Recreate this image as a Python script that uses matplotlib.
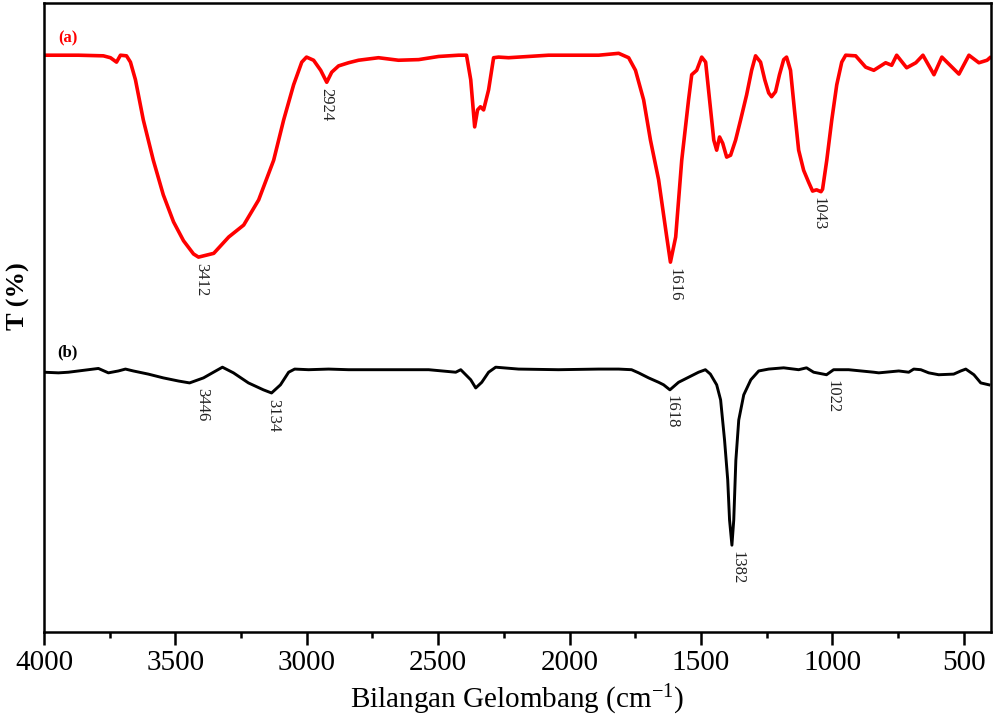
import matplotlib
matplotlib.use('Agg')
from matplotlib import pyplot as plt
from matplotlib.ticker import MultipleLocator

plt.rcParams['font.family'] = ['Liberation Serif', 'DejaVu Serif']
plt.rcParams['mathtext.fontset'] = 'custom'
plt.rcParams['mathtext.rm'] = 'Liberation Serif'
plt.rcParams['mathtext.it'] = 'Liberation Serif:italic'

# spectrum (a), red
wn_a = [4000, 3869, 3774, 3747, 3724, 3709, 3686, 3671, 3652, 3622, 3584, 3546,
        3507, 3469, 3431, 3412, 3354, 3297, 3240, 3183, 3126, 3088, 3050, 3019,
        3001, 2974, 2947, 2924, 2905, 2879, 2841, 2803, 2727, 2651, 2574, 2498,
        2422, 2392, 2376, 2361, 2350, 2339, 2327, 2308, 2289, 2270, 2232, 2080,
        1889, 1813, 1775, 1749, 1718, 1692, 1661, 1630, 1616, 1596, 1573, 1547,
        1535, 1516, 1497, 1482, 1467, 1451, 1440, 1429, 1417, 1402, 1387, 1368,
        1349, 1326, 1307, 1292, 1273, 1257, 1242, 1231, 1216, 1201, 1185, 1174,
        1159, 1144, 1128, 1109, 1090, 1075, 1060, 1043, 1037, 1021, 1002, 983,
        964, 949, 911, 873, 842, 797, 774, 755, 717, 682, 655, 613, 583, 518,
        480, 442, 411, 400]
t_a = [91.7, 91.7, 91.6, 91.3, 90.6, 91.7, 91.6, 90.6, 87.8, 81.4, 75.0, 69.5,
       65.2, 62.2, 60.1, 59.6, 60.2, 62.8, 64.7, 68.7, 75.0, 81.4, 87.0, 90.6,
       91.4, 90.9, 89.3, 87.4, 89.0, 90.0, 90.5, 90.9, 91.3, 90.9, 91.0, 91.5,
       91.7, 91.7, 87.8, 80.3, 83.0, 83.5, 83.0, 86.2, 91.3, 91.4, 91.3, 91.7,
       91.7, 92.0, 91.3, 89.3, 84.6, 78.2, 71.9, 62.8, 58.8, 62.8, 75.0, 84.6,
       88.6, 89.3, 91.4, 90.6, 84.6, 78.2, 76.6, 78.7, 77.7, 75.5, 75.8, 78.2,
       81.4, 85.4, 89.3, 91.6, 90.6, 87.8, 85.7, 85.1, 85.9, 88.6, 91.0, 91.4,
       89.3, 83.0, 76.6, 73.4, 71.5, 70.1, 70.3, 70.0, 70.4, 75.0, 81.4, 87.0,
       90.6, 91.7, 91.6, 89.8, 89.3, 90.5, 90.1, 91.7, 89.7, 90.5, 91.7, 88.6, 91.4, 88.7,
       91.7, 90.5, 90.9, 91.3]

# spectrum (b), black
wn_b = [4000, 3945, 3907, 3869, 3831, 3793, 3755, 3717, 3690, 3660, 3603, 3546,
        3488, 3446, 3393, 3355, 3321, 3279, 3222, 3165, 3134, 3100, 3069, 3046,
        2993, 2917, 2841, 2765, 2651, 2536, 2433, 2414, 2376, 2357, 2334, 2308,
        2281, 2194, 2042, 1889, 1813, 1764, 1737, 1699, 1661, 1642, 1618, 1585,
        1547, 1509, 1483, 1464, 1440, 1425, 1410, 1398, 1391, 1382, 1375, 1367,
        1356, 1337, 1310, 1280, 1242, 1185, 1128, 1098, 1071, 1022, 995, 938,
        842, 823, 747, 709, 690, 663, 633, 595, 538, 511, 492, 461, 435, 404]
t_b = [41.3, 41.2, 41.3, 41.5, 41.7, 41.9, 41.2, 41.5, 41.8, 41.5, 41.0, 40.4,
       39.9, 39.6, 40.4, 41.3, 42.1, 41.2, 39.6, 38.5, 38.0, 39.3, 41.3, 41.8,
       41.7, 41.8, 41.7, 41.7, 41.7, 41.7, 41.3, 41.7, 40.1, 38.8, 39.7, 41.3,
       42.1, 41.8, 41.7, 41.8, 41.8, 41.7, 41.2, 40.4, 39.7, 39.3, 38.5, 39.7,
       40.5, 41.3, 41.7, 41.0, 39.3, 36.9, 30.5, 24.2, 17.8, 13.8, 17.8, 27.3,
       33.7, 37.7, 40.1, 41.5, 41.8, 42.0, 41.7, 42.0, 41.3, 40.9, 41.7, 41.7,
       41.3, 41.2, 41.5, 41.3, 41.8, 41.7, 41.2, 40.9, 41.0, 41.5, 41.8, 40.9,
       39.6, 39.3]

peaks_a = [3412, 2924, 1616, 1043]
peaks_b = [3446, 3134, 1618, 1382, 1022]

fig = plt.figure(figsize=(9.94, 7.16), dpi=100)
ax = fig.add_axes([44 / 994, 84 / 716, 947 / 994, 629 / 716])

ax.plot(wn_a, t_a, color='#ff0000', lw=2.6, solid_joinstyle='round')
ax.plot(wn_b, t_b, color='black', lw=2.1, solid_joinstyle='round')

# label each marked band just under its minimum
offsets = {3412: 2, 2924: 0, 1616: 3, 1043: -2,
           3446: 9, 3134: 1, 1618: 1, 1382: 4, 1022: 4}
for wns, ts, peaks in [(wn_a, t_a, peaks_a), (wn_b, t_b, peaks_b)]:
    for p in peaks:
        t = ts[wns.index(p)]
        ax.annotate(str(p), xy=(p, t), xytext=(offsets[p], -4),
                    textcoords='offset points', rotation=270,
                    ha='center', va='top', fontsize=12, color='#222222')

ax.text(3910, 94.4, '(a)', color='#ff0000', fontsize=12, fontweight='bold',
        ha='center', va='center')
ax.text(3910, 44.5, '(b)', color='black', fontsize=12, fontweight='bold',
        ha='center', va='center')

ax.set_xlim(4000, 396)
ax.set_ylim(0, 100)
ax.xaxis.set_major_locator(MultipleLocator(500))
ax.xaxis.set_minor_locator(MultipleLocator(250))
ax.tick_params(axis='x', which='major', direction='out', length=9, width=1.8,
               labelsize=21, pad=4, top=False)
ax.tick_params(axis='x', which='minor', direction='out', length=4.5, width=1.8,
               top=False)
ax.set_yticks([])
for s in ax.spines.values():
    s.set_linewidth(1.8)

fig.text(517 / 994, 1 - 700 / 716, 'Bilangan Gelombang (cm$^{-1}$)',
         ha='center', va='center', fontsize=21)
fig.text(18 / 994, 1 - 296 / 716, 'T (%)', rotation=90, ha='center',
         va='center', fontsize=19, fontweight='bold')

fig.savefig('out.png', dpi=100)
